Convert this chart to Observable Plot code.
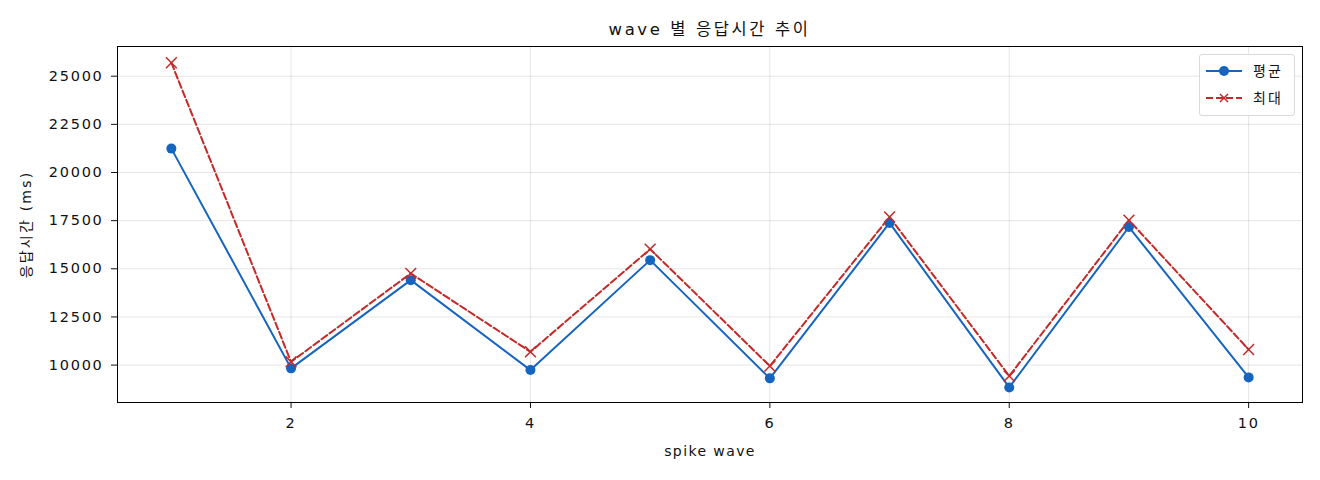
<!DOCTYPE html>
<html><head><meta charset="utf-8">
<script src="https://cdn.jsdelivr.net/npm/d3@7"></script>
<script src="https://cdn.jsdelivr.net/npm/@observablehq/plot@0.6"></script>
<style>
body{margin:0;background:#fff;font-family:"DejaVu Sans","Noto Sans CJK KR",sans-serif;}
#wrap{position:relative;width:1320px;height:480px;}
#title{height:40px;box-sizing:border-box;padding:20px 18px 0 117px;text-align:center;font-size:16.5px;letter-spacing:2.6px;color:#111;line-height:20px;}
#legend{position:absolute;left:1199px;top:54px;width:96px;height:62px;border:1px solid #d9d9d9;border-radius:3px;background:rgba(255,255,255,0.85);box-sizing:border-box;font-size:14px;letter-spacing:2px;color:#111;}
#legend .row{position:absolute;left:5px;display:flex;align-items:center;height:20px;}
#legend .row span{margin-left:10px;line-height:20px;}
#chart svg g[aria-label="y-axis tick label"] text,
#chart svg g[aria-label="x-axis tick label"] text{letter-spacing:1.7px;}
</style></head>
<body>
<div id="wrap">
<div id="title">wave 별 응답시간 추이</div>
<div id="chart"></div>
<div id="legend">
 <div class="row" style="top:5.5px"><svg width="38" height="20"><line x1="1" x2="37" y1="10" y2="10" stroke="#1565C0" stroke-width="2"/><circle cx="19" cy="10" r="5" fill="#1565C0"/></svg><span>평균</span></div>
 <div class="row" style="top:32.5px"><svg width="38" height="20"><line x1="1" x2="37" y1="10" y2="10" stroke="#C62828" stroke-width="2" stroke-dasharray="7,3"/><path d="M15 6L23 14M23 6L15 14" stroke="#C62828" stroke-width="1.5"/></svg><span>최대</span></div>
</div>
</div>
<script>
const waves = [1,2,3,4,5,6,7,8,9,10];
const meanValues = [21240,9830,14410,9740,15450,9310,17380,8840,17170,9360];
const maxValues  = [25700,10170,14760,10690,16020,9950,17690,9430,17520,10810];
const yTicks = [10000,12500,15000,17500,20000,22500,25000];
const xTicks = [2,4,6,8,10];
const xLabel = "spike wave";
const yLabel = "응답시간 (ms)";

const meanData = waves.map((w,i)=>({wave:w, value:meanValues[i]}));
const maxData = waves.map((w,i)=>({wave:w, value:maxValues[i]}));

const chart = Plot.plot({
  width:1320, height:440,
  marginTop:6, marginBottom:78, marginLeft:117, marginRight:18,
  style:{fontFamily:'"DejaVu Sans","Noto Sans CJK KR",sans-serif', fontSize:"14px", color:"#111", background:"#fff"},
  x:{domain:[0.55,10.45], ticks:xTicks, label:null},
  y:{domain:[8057,26543], ticks:yTicks, label:null},
  marks:[
    Plot.gridX(xTicks,{stroke:"#000", strokeOpacity:0.1}),
    Plot.gridY(yTicks,{stroke:"#000", strokeOpacity:0.1}),
    Plot.axisX({ticks:xTicks, tickSize:6, tickPadding:9, fontSize:14.5, label:null}),
    Plot.axisY({ticks:yTicks, tickSize:6, tickPadding:8, fontSize:14.5, label:null, tickFormat:d=>String(d)}),
    Plot.line(maxData,{x:"wave", y:"value", stroke:"#C62828", strokeWidth:2, strokeDasharray:"7,3"}),
    Plot.line(meanData,{x:"wave", y:"value", stroke:"#1565C0", strokeWidth:2}),
    Plot.dot(meanData,{x:"wave", y:"value", r:5, fill:"#1565C0"}),
    Plot.dot(maxData,{x:"wave", y:"value", r:5, symbol:"times", stroke:"#C62828", strokeWidth:1.5}),
    Plot.frame({stroke:"#000", strokeWidth:1}),
    Plot.text([xLabel],{frameAnchor:"bottom", dy:53, fontSize:14, fill:"#111"}),
    Plot.text([yLabel],{frameAnchor:"left", textAnchor:"middle", dx:-91, rotate:-90, fontSize:14, fill:"#111"})
  ]
});
d3.select(chart).selectAll('g[aria-label="text"] text').each(function(){
  const t = d3.select(this).text();
  if (t === xLabel) d3.select(this).style("letter-spacing","1.4px");
  if (t === yLabel) d3.select(this).style("letter-spacing","2.2px");
});
document.getElementById("chart").appendChild(chart);
</script>
</body></html>
